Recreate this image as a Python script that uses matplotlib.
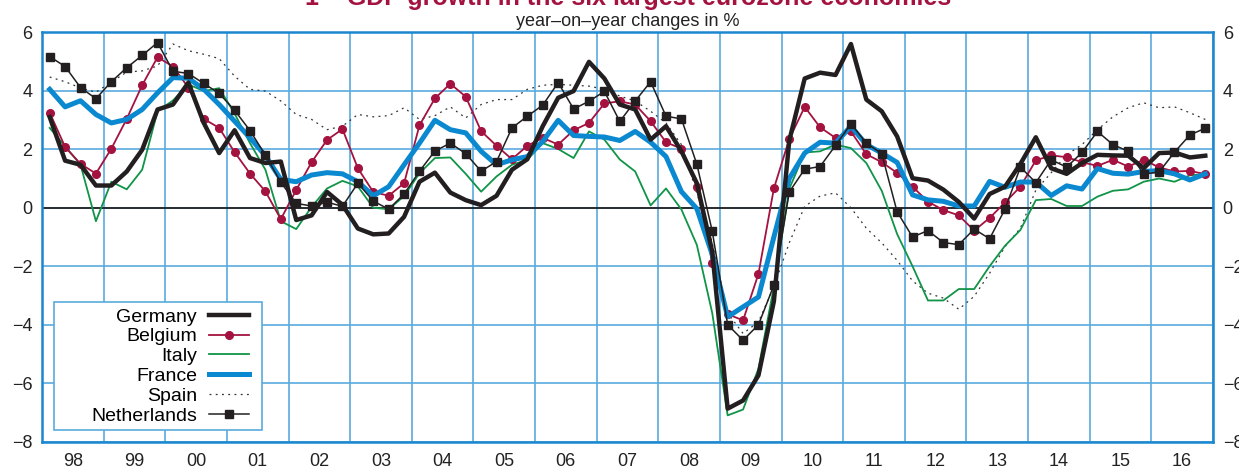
import numpy as np
import pandas as pd
import matplotlib
matplotlib.use("Agg")
import matplotlib.pyplot as plt
from matplotlib.patches import Rectangle

plt.rcParams["font.family"] = ["Liberation Sans", "DejaVu Sans"]

# quarterly observations, 1998Q1 .. 2016Q4 (year-on-year change in %)
quarters = pd.period_range("1998Q1", "2016Q4", freq="Q")
year_labels = ["98", "99", "00", "01", "02", "03", "04", "05", "06", "07",
               "08", "09", "10", "11", "12", "13", "14", "15", "16"]

germany = [3.1, 1.61, 1.47, 0.76, 0.76, 1.24, 1.98, 3.36, 3.53, 4.28,
           2.90, 1.87, 2.65, 1.70, 1.53, 1.58, -0.42, -0.26, 0.54, 0.10,
           -0.71, -0.91, -0.88, -0.31, 0.89, 1.20, 0.52, 0.26, 0.09, 0.41,
           1.30, 1.66, 2.79, 3.76, 3.99, 4.99, 4.42, 3.53, 3.36, 2.33,
           2.79, 1.93, 0.84, -1.50, -6.87, -6.59, -5.73, -3.20, 2.30, 4.42,
           4.62, 4.54, 5.60, 3.70, 3.30, 2.44, 1.01, 0.93, 0.62, 0.20,
           -0.37, 0.47, 0.72, 1.50, 2.41, 1.35, 1.16, 1.53, 1.81, 1.79,
           1.78, 1.35, 1.87, 1.89, 1.72, 1.78]

belgium = [3.25, 2.08, 1.50, 1.17, 2.02, 3.04, 4.19, 5.15, 4.83, 4.11,
           3.04, 2.73, 1.90, 1.17, 0.56, -0.39, 0.61, 1.56, 2.32, 2.69,
           1.35, 0.54, 0.41, 0.84, 2.82, 3.74, 4.24, 3.80, 2.62, 2.12,
           1.66, 2.12, 2.39, 2.16, 2.65, 2.90, 3.57, 3.64, 3.53, 2.96,
           2.24, 2.02, 0.72, -1.88, -3.64, -3.85, -2.26, 0.66, 2.35, 3.45,
           2.75, 2.39, 2.61, 1.83, 1.56, 1.19, 0.72, 0.21, -0.08, -0.26,
           -0.78, -0.35, 0.18, 0.72, 1.62, 1.79, 1.73, 1.56, 1.43, 1.64,
           1.41, 1.64, 1.38, 1.24, 1.26, 1.15]

italy = [2.73, 2.10, 1.47, -0.46, 0.89, 0.63, 1.30, 3.30, 3.67, 4.22,
         3.99, 4.09, 3.22, 2.21, 1.30, -0.46, -0.73, 0.03, 0.66, 0.92,
         0.73, 0.00, -0.05, 0.40, 1.18, 1.70, 1.72, 1.16, 0.55, 1.07,
         1.47, 1.64, 2.21, 2.01, 1.70, 2.61, 2.33, 1.65, 1.24, 0.08,
         0.66, -0.06, -1.27, -3.60, -7.10, -6.90, -5.50, -2.70, 0.65, 1.89,
         1.93, 2.16, 2.04, 1.53, 0.58, -0.90, -2.00, -3.17, -3.17, -2.78,
         -2.78, -2.00, -1.30, -0.76, 0.26, 0.30, 0.06, 0.06, 0.38, 0.58,
         0.63, 0.89, 1.00, 0.89, 1.11, 1.15]

france = [4.05, 3.45, 3.66, 3.19, 2.90, 3.02, 3.36, 3.93, 4.45, 4.43,
          4.05, 3.53, 2.96, 2.39, 1.78, 0.97, 0.89, 1.12, 1.20, 1.16,
          0.89, 0.41, 0.72, 1.47, 2.21, 2.99, 2.67, 2.56, 1.93, 1.47,
          1.64, 1.75, 2.27, 2.99, 2.47, 2.44, 2.42, 2.30, 2.61, 2.24,
          1.75, 0.55, -0.03, -1.60, -3.73, -3.39, -3.05, -1.00, 1.00, 1.87,
          2.24, 2.21, 2.79, 2.16, 1.87, 1.55, 0.44, 0.27, 0.22, 0.06,
          0.06, 0.90, 0.70, 0.88, 0.88, 0.42, 0.75, 0.64, 1.34, 1.18,
          1.15, 1.24, 1.27, 1.16, 0.95, 1.16]

spain = [4.47, 4.31, 4.10, 3.95, 4.30, 4.64, 4.68, 4.85, 5.60, 5.37,
         5.25, 5.10, 4.50, 4.05, 3.99, 3.65, 3.19, 3.02, 2.67, 2.79,
         3.19, 3.11, 3.15, 3.42, 3.02, 3.15, 3.45, 3.07, 3.53, 3.70,
         3.70, 4.05, 4.19, 4.22, 4.19, 4.16, 4.05, 3.82, 3.65, 3.30,
         2.90, 2.16, 0.50, -1.20, -3.60, -4.30, -3.90, -2.70, -1.20, 0.05,
         0.40, 0.51, 0.00, -0.70, -1.20, -1.80, -2.50, -2.92, -3.09, -3.47,
         -3.03, -2.24, -1.33, -0.70, 0.60, 1.20, 1.81, 2.16, 2.67, 3.11,
         3.42, 3.59, 3.42, 3.45, 3.25, 3.02]

netherlands = [5.17, 4.83, 4.11, 3.73, 4.31, 4.79, 5.21, 5.65, 4.67, 4.59,
               4.25, 3.91, 3.33, 2.64, 1.80, 0.87, 0.15, 0.06, 0.19, 0.05,
               0.84, 0.23, -0.05, 0.47, 1.25, 1.94, 2.21, 1.85, 1.25, 1.58,
               2.73, 3.13, 3.51, 4.28, 3.38, 3.64, 3.98, 2.95, 3.65, 4.31,
               3.13, 3.04, 1.49, -0.80, -4.00, -4.53, -4.00, -2.65, 0.54, 1.32,
               1.41, 2.13, 2.87, 2.21, 1.85, -0.14, -1.00, -0.78, -1.19, -1.26,
               -0.73, -1.06, -0.05, 1.39, 0.86, 1.64, 1.39, 1.89, 2.61, 2.16,
               1.93, 1.15, 1.22, 1.90, 2.49, 2.72]

GRID = "#5aaadf"
SPINE = "#1b87cf"
RED = "#a4123f"

# quarter mid-points on a continuous year axis
x = quarters.year + (quarters.quarter - 0.5) / 4

fig = plt.figure(figsize=(12.39, 4.70), dpi=100)
ax = fig.add_axes([42 / 1239, 1 - 441.7 / 470, 1171 / 1239, 409.4 / 470])

ax.plot(x, spain, color="#333333", lw=0.9, ls=(0, (1.5, 3.5)), label="Spain", zorder=3)
ax.plot(x, italy, color="#109447", lw=1.3, label="Italy", zorder=3)
ax.plot(x, belgium, color=RED, lw=1.3, marker="o", ms=5.5, label="Belgium", zorder=4)
ax.plot(x, france, color="#0a88d0", lw=3.6, label="France", zorder=5)
ax.plot(x, germany, color="#231f20", lw=3.2, label="Germany", zorder=6)
ax.plot(x, netherlands, color="#231f20", lw=1.1, marker="s", ms=5.5,
        label="Netherlands", zorder=7)

ax.axhline(0, color="#222222", lw=1.3, zorder=2)

years = np.arange(1998, 2018)
ax.set_xlim(1998, 2017)
ax.set_ylim(-8, 6)
ax.set_xticks(years)
ax.set_xticklabels([])
ax.set_xticks(years[:-1] + 0.5, minor=True)
ax.set_xticklabels(year_labels, minor=True)
ax.set_yticks(np.arange(-8, 7, 2))
ax.grid(True, which="major", color=GRID, lw=1.2, zorder=1)
ax.set_axisbelow(True)
ax.tick_params(which="both", length=0, labelsize=13, colors="#222222")
ax.tick_params(axis="x", which="minor", pad=8)
ax.tick_params(axis="y", pad=7, labelright=True)
for s in ax.spines.values():
    s.set_color(SPINE)
    s.set_linewidth(1.8)

# legend: labels right aligned, handle on the right
order = ["Germany", "Belgium", "Italy", "France", "Spain", "Netherlands"]
hmap = {h.get_label(): h for h in ax.get_lines()}
leg = ax.legend([hmap[k] for k in order], order, loc="upper right",
                bbox_to_anchor=((249 - 42) / 1171, (441.7 - 308) / 409.4),
                frameon=False, markerfirst=False, fontsize=14, borderpad=0,
                borderaxespad=0, handlelength=2.05, handletextpad=0.63,
                labelspacing=0.113)
leg.set_zorder(9)
ax.add_patch(Rectangle((12 / 1171, (441.7 - 430) / 409.4), 208 / 1171, 128.3 / 409.4,
                       transform=ax.transAxes, facecolor="white", edgecolor=GRID,
                       lw=1.2, zorder=8))

fig.text(628 / 1239, 1 - 5 / 470, "1 – GDP growth in the six largest eurozone economies",
         ha="center", va="baseline", fontsize=18, fontweight="bold", color=RED)
fig.text(628 / 1239, 1 - 26 / 470, "year–on–year changes in %",
         ha="center", va="baseline", fontsize=13, color="#222222")

fig.savefig("out.png", dpi=100)
